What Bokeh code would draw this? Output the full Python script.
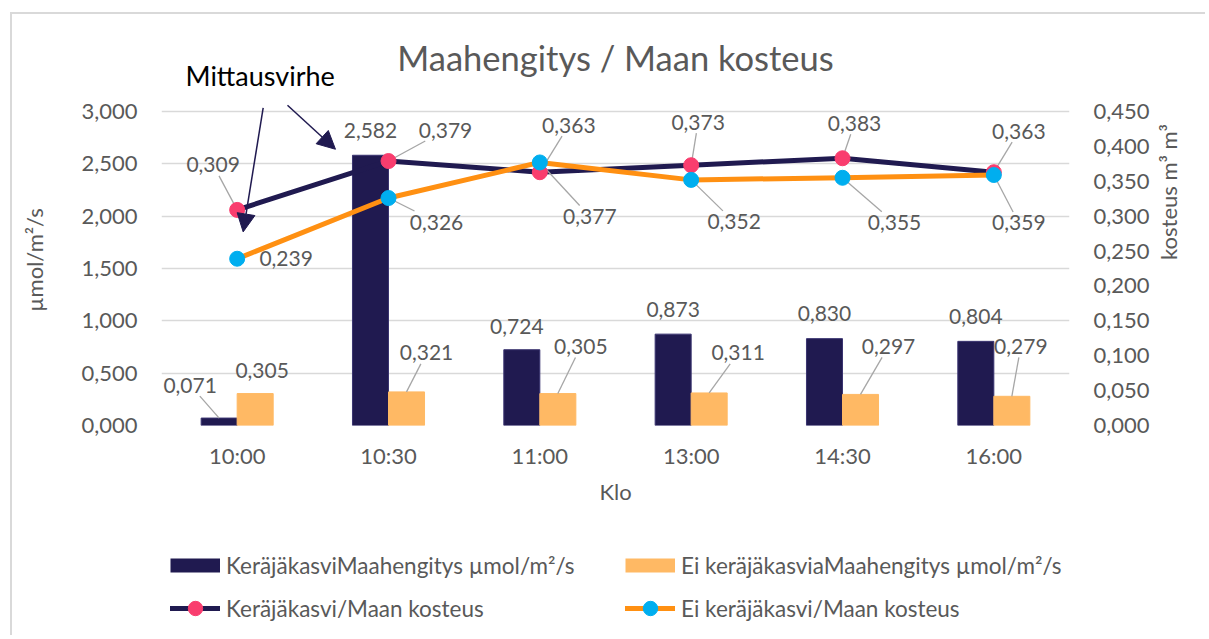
import math
from bokeh.plotting import figure
from bokeh.layouts import column
from bokeh.models import (ColumnDataSource, FactorRange, Range1d, LinearAxis, FixedTicker,
                          CustomJSTickFormatter, Legend, LegendItem, LabelSet, Label, Arrow, NormalHead)
from bokeh.transform import dodge
from bokeh.core.properties import value
from bokeh.embed import file_html
from bokeh.resources import INLINE

# ---------------- data ----------------
times = ["10:00", "10:30", "11:00", "13:00", "14:30", "16:00"]
resp_catch = [0.071, 2.582, 0.724, 0.873, 0.830, 0.804]      # Keräjäkasvi Maahengitys µmol/m²/s
resp_none = [0.305, 0.321, 0.305, 0.311, 0.297, 0.279]       # Ei keräjäkasvia Maahengitys µmol/m²/s
moist_catch = [0.309, 0.379, 0.363, 0.373, 0.383, 0.363]     # Keräjäkasvi / Maan kosteus
moist_none = [0.239, 0.326, 0.377, 0.352, 0.355, 0.359]      # Ei keräjäkasvi / Maan kosteus
left_ticks = [0.0, 0.5, 1.0, 1.5, 2.0, 2.5, 3.0]
right_ticks = [0.0, 0.05, 0.10, 0.15, 0.20, 0.25, 0.30, 0.35, 0.40, 0.45]

series_names = ["KeräjäkasviMaahengitys µmol/m²/s", "Ei keräjäkasviaMaahengitys µmol/m²/s",
                "Keräjäkasvi/Maan kosteus", "Ei keräjäkasvi/Maan kosteus"]
title_text = "Maahengitys / Maan kosteus"
note_text = "Mittausvirhe"

# ---------------- style ----------------
NAVY = "#201a50"
ORANGE_BAR = "#ffb964"
ORANGE_LINE = "#ff9012"
PINK = "#f93d6e"
BLUE = "#00aeef"
GRAY_TXT = "#595959"
GRID = "#d9d9d9"
FONT = "Lato"
FS = "22px"
FS_LBL = "21px"

W = 1205
HT, H1, H2 = 94, 421, 120
ML, MB = 161, 90
FW = 908
MR = W - ML - FW
FH = H1 - MB               # frame height of main chart (headroom above the axis top)
PLOT_H = 314               # pixel height of the 0..LMAX axis span
LMAX, RMAX = 3.0, 0.45
UPP_L, UPP_R = LMAX / PLOT_H, RMAX / PLOT_H
BW = 0.238
PXX = FW / len(times)

# label offsets in screen px (dx right, dy down) and whether a leader line is drawn
rc_off = [(-29, -33), (0, -25), (-5, -23), (0, -25), (0, -25), (0, -25)]
rc_lead = [True, False, False, False, False, False]
rn_off = [(7, -23), (20, -39), (23, -47), (29, -40), (28, -48), (9, -50)]
rn_lead = [False, True, True, True, True, True]
mc_off = [(-24, -45), (57, -31), (29, -47), (7, -43), (12, -35), (25, -41)]
mc_lead = [True, True, True, True, True, True]
mn_off = [(49, 0), (48, 24), (50, 54), (43, 42), (52, 45), (25, 48)]
mn_lead = [False, True, True, True, True, True]


def fmt(v):
    return f"{v:.3f}".replace(".", ",")


def bare(fig):
    fig.axis.visible = False
    fig.grid.visible = False
    fig.outline_line_color = None
    fig.background_fill_alpha = 0
    fig.border_fill_alpha = 0


xr = FactorRange(*times)

# ---------------- main chart ----------------
p = figure(x_range=xr, y_range=Range1d(0, UPP_L * FH),
           width=W, height=H1, output_backend="svg", toolbar_location=None,
           min_border_left=ML, min_border_right=MR, min_border_top=0, min_border_bottom=MB)
p.extra_y_ranges = {"right": Range1d(0, UPP_R * FH)}
p.outline_line_color = None
p.background_fill_alpha = 0
p.border_fill_alpha = 0
p.xgrid.grid_line_color = None
p.ygrid.grid_line_color = GRID
p.ygrid.grid_line_width = 1.5
p.ygrid.ticker = FixedTicker(ticks=left_ticks)

formatter = CustomJSTickFormatter(code="return tick.toFixed(3).replace('.', ',');")

yl = p.yaxis[0]
yl.ticker = FixedTicker(ticks=left_ticks)
yl.formatter = formatter
yl.axis_label = "µmol/m²/s"
yl.axis_label_standoff = 30

yr = LinearAxis(y_range_name="right", ticker=FixedTicker(ticks=right_ticks), formatter=formatter)
yr.axis_label = "kosteus m³ m³"
yr.axis_label_standoff = 16
try:
    yr.axis_label_orientation = math.pi / 2
except Exception:
    pass
try:
    yr.axis_label_text_align = "center"
except Exception:
    pass
p.add_layout(yr, "right")

xa = p.xaxis[0]
xa.axis_label = "Klo"
xa.major_label_standoff = 16
xa.axis_label_standoff = 6

for ax in [yl, yr, xa]:
    ax.axis_line_color = None
    ax.major_tick_line_color = None
    ax.minor_tick_line_color = None
    ax.major_tick_in = 0
    ax.major_tick_out = 0
    ax.major_label_text_font = FONT
    ax.major_label_text_font_size = FS
    ax.major_label_text_color = GRAY_TXT
    ax.axis_label_text_font = FONT
    ax.axis_label_text_font_size = FS
    ax.axis_label_text_font_style = "normal"
    ax.axis_label_text_color = GRAY_TXT
yl.major_label_standoff = 24
yr.major_label_standoff = 24

src = ColumnDataSource(dict(t=times, rc=resp_catch, rn=resp_none, mc=moist_catch, mn=moist_none))

p.vbar(x=dodge("t", -BW / 2, range=xr), top="rc", width=BW, source=src,
       fill_color=NAVY, line_color="#3a3470", line_width=1)
p.vbar(x=dodge("t", BW / 2, range=xr), top="rn", width=BW, source=src,
       fill_color=ORANGE_BAR, line_color=ORANGE_BAR)

p.line("t", "mc", source=src, y_range_name="right", line_width=5, line_color=NAVY,
       line_cap="round", line_join="round")
p.line("t", "mn", source=src, y_range_name="right", line_width=5, line_color=ORANGE_LINE,
       line_cap="round", line_join="round")


def leaders(vals, offs, flags, shift, upp):
    x0s, y0s, x1s, y1s = [], [], [], []
    for i, (v, (dx, dy), f) in enumerate(zip(vals, offs, flags)):
        if not f:
            continue
        hw, hh = 28.0, 11.0
        t = min(hw / abs(dx) if dx else math.inf, hh / abs(dy) if dy else math.inf)
        ex, ey = dx * (1 - t), dy * (1 - t)
        x0 = i + 0.5 + shift
        x0s.append(x0)
        y0s.append(v)
        x1s.append(x0 + ex / PXX)
        y1s.append(v - ey * upp)
    return dict(x0=x0s, y0=y0s, x1=x1s, y1=y1s)


for vals, offs, flags, shift, upp, rng in [
        (resp_catch, rc_off, rc_lead, -BW / 2, UPP_L, "default"),
        (resp_none, rn_off, rn_lead, BW / 2, UPP_L, "default"),
        (moist_catch, mc_off, mc_lead, 0.0, UPP_R, "right"),
        (moist_none, mn_off, mn_lead, 0.0, UPP_R, "right")]:
    d = leaders(vals, offs, flags, shift, upp)
    p.segment(x0="x0", y0="y0", x1="x1", y1="y1", source=ColumnDataSource(d),
              line_color="#a6a6a6", line_width=1.3, y_range_name=rng)

p.scatter("t", "mc", source=src, y_range_name="right", size=15, fill_color=PINK, line_color=PINK)
p.scatter("t", "mn", source=src, y_range_name="right", size=15, fill_color=BLUE, line_color=BLUE)

for vals, offs, shift, rng in [(resp_catch, rc_off, -BW / 2, "default"),
                               (resp_none, rn_off, BW / 2, "default"),
                               (moist_catch, mc_off, 0.0, "right"),
                               (moist_none, mn_off, 0.0, "right")]:
    lsrc = ColumnDataSource(dict(t=times, y=vals, txt=[fmt(v) for v in vals],
                                 xo=[o[0] for o in offs], yo=[-o[1] for o in offs]))
    p.add_layout(LabelSet(x=dodge("t", shift, range=xr), y="y", text="txt", source=lsrc,
                          x_offset="xo", y_offset="yo", y_range_name=rng,
                          text_align="center", text_baseline="middle",
                          text_font=value(FONT), text_font_size=FS_LBL, text_color=GRAY_TXT))


def px(x, y, dx, dy, upp=UPP_L):
    return x + dx / PXX, y - dy * upp


pink0 = (0.5, moist_catch[0] * LMAX / RMAX)
bar1_left = (1.5 - BW, resp_catch[1])
a1s = px(*pink0, 26, -102)
a1e = px(*pink0, 6, 22)
a2s = px(*bar1_left, -65, -50)
a2e = px(*bar1_left, -17, -6)
for s, e in [(a1s, a1e), (a2s, a2e)]:
    p.add_layout(Arrow(x_start=s[0], y_start=s[1], x_end=e[0], y_end=e[1],
                       line_color=NAVY, line_width=1.5,
                       end=NormalHead(size=18, fill_color=NAVY, line_color=NAVY)))

# ---------------- heading strip (title + note) ----------------
pt = figure(x_range=xr, y_range=Range1d(0, HT), width=W, height=HT,
            output_backend="svg", toolbar_location=None,
            min_border_left=ML, min_border_right=MR, min_border_top=0, min_border_bottom=0)
bare(pt)
pt.add_layout(Label(x=len(times) / 2, y=HT - 57, text=title_text,
                    text_align="center", text_baseline="middle",
                    text_font=FONT, text_font_size="34.5px", text_color=GRAY_TXT))
pt.add_layout(Label(x=a1s[0], y=HT - 75, x_offset=-3, text=note_text,
                    text_align="center", text_baseline="middle",
                    text_font=FONT, text_font_size="27px", text_color="black"))

# ---------------- legend strip ----------------
p2 = figure(width=W, height=H2, x_range=Range1d(0, 1), y_range=Range1d(0, 1),
            output_backend="svg", toolbar_location=None,
            min_border_left=ML, min_border_right=MR, min_border_top=0, min_border_bottom=0)
bare(p2)
off = ColumnDataSource(dict(x=[-5.0], y=[-5.0]))   # proxy glyphs kept outside the view
g_c = p2.line("x", "y", source=off, line_width=14, line_color=NAVY, line_cap="butt")
g_n = p2.line("x", "y", source=off, line_width=14, line_color=ORANGE_BAR, line_cap="butt")
g_lc = p2.line("x", "y", source=off, line_width=5, line_color=NAVY, line_cap="round")
g_sc = p2.scatter("x", "y", source=off, size=15, fill_color=PINK, line_color=PINK)
g_ln = p2.line("x", "y", source=off, line_width=5, line_color=ORANGE_LINE, line_cap="round")
g_sn = p2.scatter("x", "y", source=off, size=15, fill_color=BLUE, line_color=BLUE)

legend = Legend(items=[LegendItem(label=series_names[0], renderers=[g_c]),
                       LegendItem(label=series_names[1], renderers=[g_n]),
                       LegendItem(label=series_names[2], renderers=[g_lc, g_sc]),
                       LegendItem(label=series_names[3], renderers=[g_ln, g_sn])],
                orientation="horizontal", ncols=2, location=(9, 9))
legend.label_text_font = FONT
legend.label_text_font_size = "22.5px"
legend.label_text_color = GRAY_TXT
legend.glyph_width = 50
legend.glyph_height = 36
legend.label_standoff = 6
legend.spacing = 7
legend.label_width = 392
legend.padding = 0
legend.margin = 0
legend.border_line_color = None
legend.background_fill_alpha = 0
p2.add_layout(legend)

BORDER = "#d9d9d9"
layout = column(pt, p, p2, spacing=0, styles={
    "background-color": "white",
    "background-image": f"linear-gradient({BORDER}, {BORDER}), linear-gradient({BORDER}, {BORDER})",
    "background-position": "10px 12px, 10px 12px",
    "background-size": "2px 100%, 100% 2px",
    "background-repeat": "no-repeat",
})
open("out.html", "w").write(file_html(layout, INLINE))
